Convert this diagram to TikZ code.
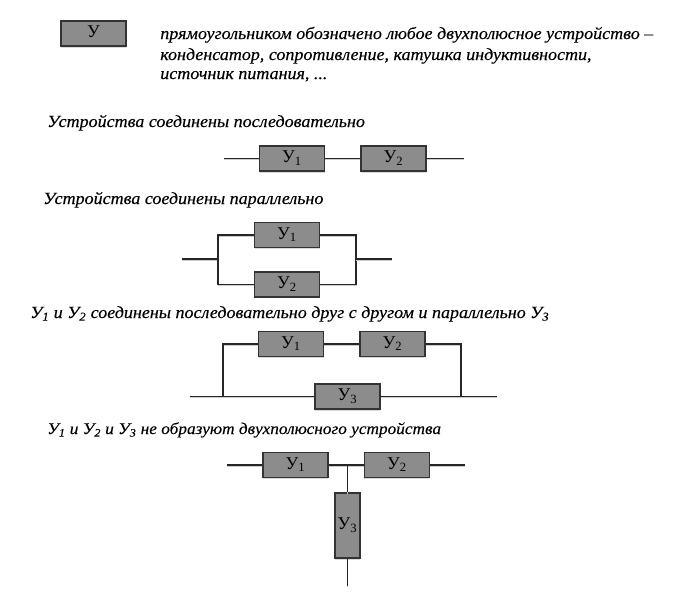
\documentclass[tikz,border=0pt]{standalone}
\usepackage{fontspec}
\setmainfont{Liberation Serif}
\newfontfamily\captionfont[FakeStretch=1.06, FakeBold=0.25]{Liberation Serif}
\usetikzlibrary{positioning, shadows}

\begin{document}
\begin{tikzpicture}[x=1pt, y=-1pt, semithick]
        \tikzstyle{device} = [rectangle, draw=black!80, fill=black!45, line width=1.4pt, minimum width=65pt, minimum height=25pt, inner sep=0pt, text depth=3pt, font=\fontsize{18}{18}\selectfont, drop shadow={shadow xshift=0pt, shadow yshift=-1.5pt, opacity=0.3}]
        \tikzstyle{upright} = [device, minimum width=25pt, minimum height=65pt]
        \tikzstyle{caption} = [anchor=base west, inner sep=0pt, font=\fontsize{17}{17}\captionfont\itshape]
        \tikzstyle{wire} = [draw=black!85, line width=1.5pt, preaction={draw=black!20, transform canvas={yshift=-1.2pt}}]

        \useasboundingbox (0,0) rectangle (690,613);

        % legend
        \node[device](legend) at (93.5,33.5) {У};
        \node[caption](line_1) at (160,39) {прямоугольником обозначено любое двухполюсное устройство –};
        \node[caption](line_2) at (160,60) {конденсатор, сопротивление, катушка индуктивности,};
        \node[caption](line_3) at (160,79) {источник питания, ...};

        % series
        \node[caption](title_a) at (47,127) {Устройства соединены последовательно};
        \node[device](a_1) at (292,158.5) {У\textsubscript{1}};
        \node[device](a_2) [right=35pt of a_1] {У\textsubscript{2}};
        \coordinate[left=35pt of a_1] (a_in);
        \coordinate[right=37pt of a_2] (a_out);
        \draw[wire] (a_in) -- (a_1);
        \draw[wire] (a_1) -- (a_2);
        \draw[wire] (a_2) -- (a_out);

        % parallel
        \node[caption](title_b) at (43,204) {Устройства соединены параллельно};
        \node[device](b_1) at (287,235) {У\textsubscript{1}};
        \node[device](b_2) [below=23pt of b_1] {У\textsubscript{2}};
        \coordinate (b_in) at (182,259);
        \coordinate (b_left) at (218,259);
        \coordinate (b_right) at (356,259);
        \coordinate (b_out) at (392,259);
        \draw[wire] (b_in) -- (b_left);
        \draw[wire] (b_1.west) -| (b_left) |- (b_2.west);
        \draw[wire] (b_1.east) -| (b_right) |- (b_2.east);
        \draw[wire] (b_right) -- (b_out);

        % mixed
        \node[caption](title_c) at (30,318) {У\textsubscript{1} и У\textsubscript{2} соединены последовательно друг с другом и параллельно У\textsubscript{3}};
        \node[device](c_1) at (291,344) {У\textsubscript{1}};
        \node[device](c_2) [right=35pt of c_1] {У\textsubscript{2}};
        \node[device](c_3) at (347.5,396.5) {У\textsubscript{3}};
        \coordinate (c_in) at (190,396.5);
        \coordinate (c_left) at (223,396.5);
        \coordinate (c_right) at (461,396.5);
        \coordinate (c_out) at (497,396.5);
        \draw[wire] (c_in) -- (c_3);
        \draw[wire] (c_3) -- (c_out);
        \draw[wire] (c_left) |- (c_1);
        \draw[wire] (c_1) -- (c_2);
        \draw[wire] (c_2) -| (c_right);

        % star
        \node[caption, font=\fontsize{16.3}{16.3}\captionfont\itshape](title_d) at (47,434) {У\textsubscript{1} и У\textsubscript{2} и У\textsubscript{3} не образуют двухполюсного устройства};
        \node[device](d_1) at (295.5,465) {У\textsubscript{1}};
        \node[device](d_2) [right=35pt of d_1] {У\textsubscript{2}};
        \node[upright](d_3) at (347.5,525.5) {У\textsubscript{3}};
        \coordinate (d_in) at (227,465);
        \coordinate (d_out) at (465,465);
        \coordinate (d_joint) at (347.5,465);
        \coordinate (d_end) at (347.5,586);
        \draw[wire] (d_in) -- (d_1);
        \draw[wire] (d_1) -- (d_2);
        \draw[wire] (d_2) -- (d_out);
        \draw[wire] (d_joint) -- (d_3);
        \draw[wire] (d_3) -- (d_end);
\end{tikzpicture}
\end{document}
